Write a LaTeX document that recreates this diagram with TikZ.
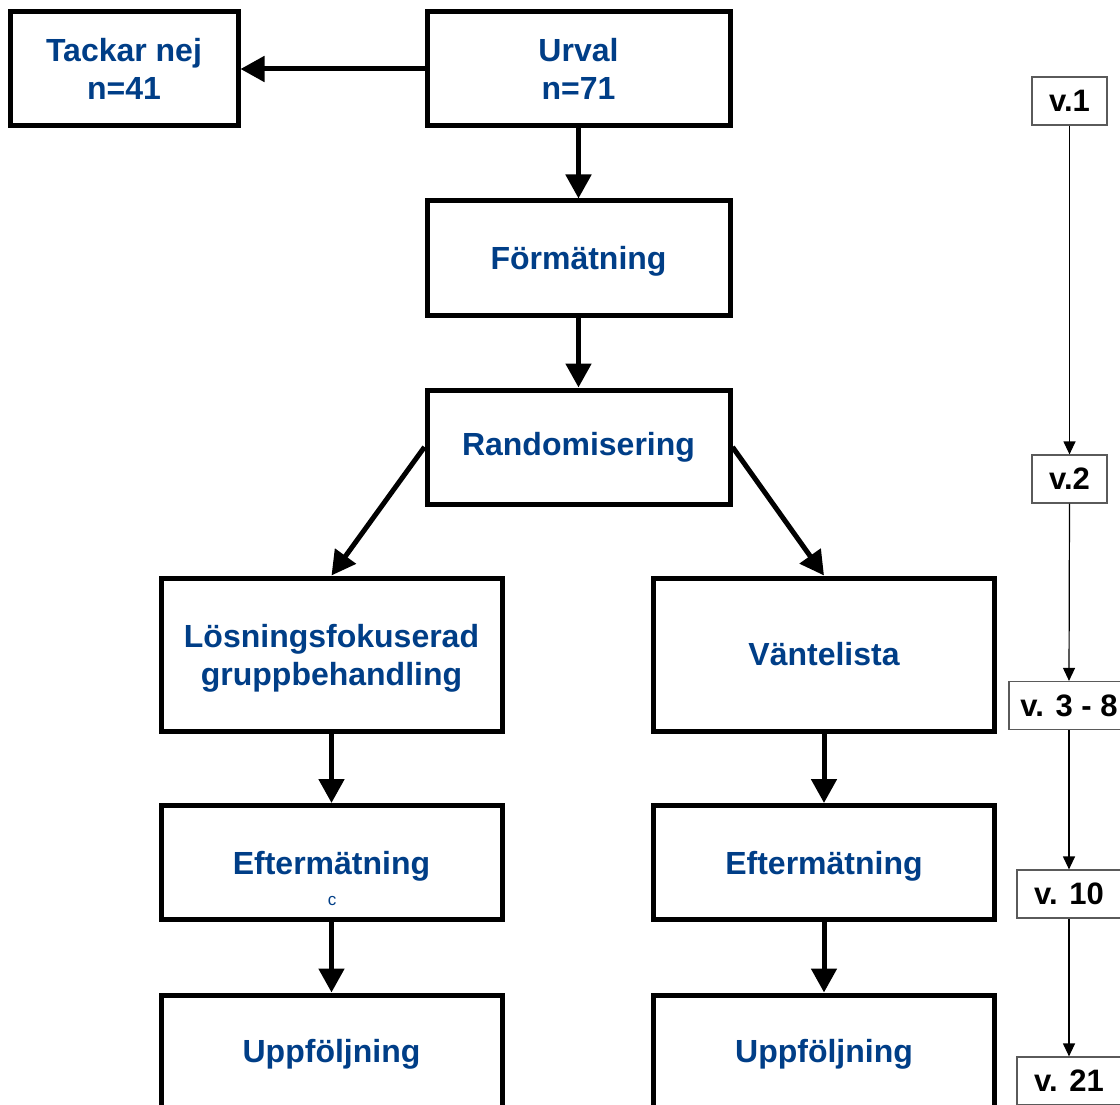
\documentclass[tikz,border=0pt]{standalone}
\usepackage{fontspec}
\setmainfont{Liberation Sans}
\usetikzlibrary{arrows.meta}
\definecolor{txtblue}{RGB}{0,62,135}
\definecolor{tlgray}{RGB}{90,90,90}
\begin{document}
\begin{tikzpicture}[x=1pt,y=-1pt,
  txt/.style={font=\fontsize{32}{38}\selectfont\bfseries, text=txtblue, align=center},
  box/.style={draw=black, line width=5pt, minimum height=114pt, inner sep=0pt, txt, fill=white},
  wbox/.style={box, minimum width=303pt},
  sbox/.style={box, minimum width=228pt},
  lbox/.style={box, minimum width=341pt},
  low/.style={text depth=0pt},
  tbox/.style={draw=tlgray, line width=1.2pt, minimum height=48pt, inner sep=0pt,
    font=\fontsize{31}{36}\selectfont\bfseries, text=black, fill=white},
  fat/.style={-{Triangle[length=24pt,width=25pt]}, line width=5pt},
  slim/.style={-{Triangle[length=13pt,width=12pt]}, line width=1.2pt},
  small/.style={font=\fontsize{17}{20}\selectfont, text=txtblue, inner sep=0pt}
]
\clip (0,0) rectangle (1120,1105);
\useasboundingbox (0,0) rectangle (1120,1105);

% main boxes
\node[sbox] (tack) at (124,69) {Tackar nej\\n=41};
\node[wbox] (urval) at (578.5,69) {Urval\\n=71};
\node[wbox, low] (form) at (578.5,258) {Förmätning};
\node[wbox] (rand) at (578.5,447) {Randomisering};
\node[lbox, low, minimum height=153pt] (losn) at (331.5,654.5) {Lösningsfokuserad\\gruppbehandling};
\node[lbox, minimum height=153pt] (vant) at (824,654.5) {Väntelista};
\node[lbox] (eftL) at (331.5,862.5) {};
\node[lbox, low] (eftR) at (824,862.5) {Eftermätning};
\node[lbox] (uppL) at (331.5,1052) {};
\node[lbox] (uppR) at (824,1052) {};
\node[txt, low, inner sep=0pt] (eftLt) at (331.5,862.5) {Eftermätning};
\node[small] (cc) at (332,901) {c};
\node[txt, low, inner sep=0pt] (uppLt) at (331.5,1051) {Uppföljning};
\node[txt, low, inner sep=0pt] (uppRt) at (824,1051) {Uppföljning};

% main arrows
\draw[fat] (urval.west) -- (tack.east);
\draw[fat] (urval.south) -- (form.north);
\draw[fat] (form.south) -- (rand.north);
\draw[fat] (rand.west) -- (losn.north);
\draw[fat] (rand.east) -- (vant.north);
\draw[fat] (losn.south) -- (eftL.north);
\draw[fat] (vant.south) -- (eftR.north);
\draw[fat] (eftL.south) -- (uppL.north);
\draw[fat] (eftR.south) -- (uppR.north);

% timeline
\node[tbox, minimum width=75pt] (v1) at (1069.5,101) {v.1};
\node[tbox, minimum width=75pt] (v2) at (1069.5,479) {v.2};
\node[tbox, minimum width=120pt] (v38) at (1069,705.5) {v. 3 - 8};
\node[tbox, minimum width=104pt] (v10) at (1069,894) {v. 10};
\node[tbox, minimum width=104pt] (v21) at (1069,1081) {v. 21};
\draw[slim] (v1.south) -- (v2.north);
\draw[slim] (v2.south) -- (v38.north);
\draw[slim] (v38.south) -- (v10.north);
\draw[slim] (v10.south) -- (v21.north);
\end{tikzpicture}
\end{document}
